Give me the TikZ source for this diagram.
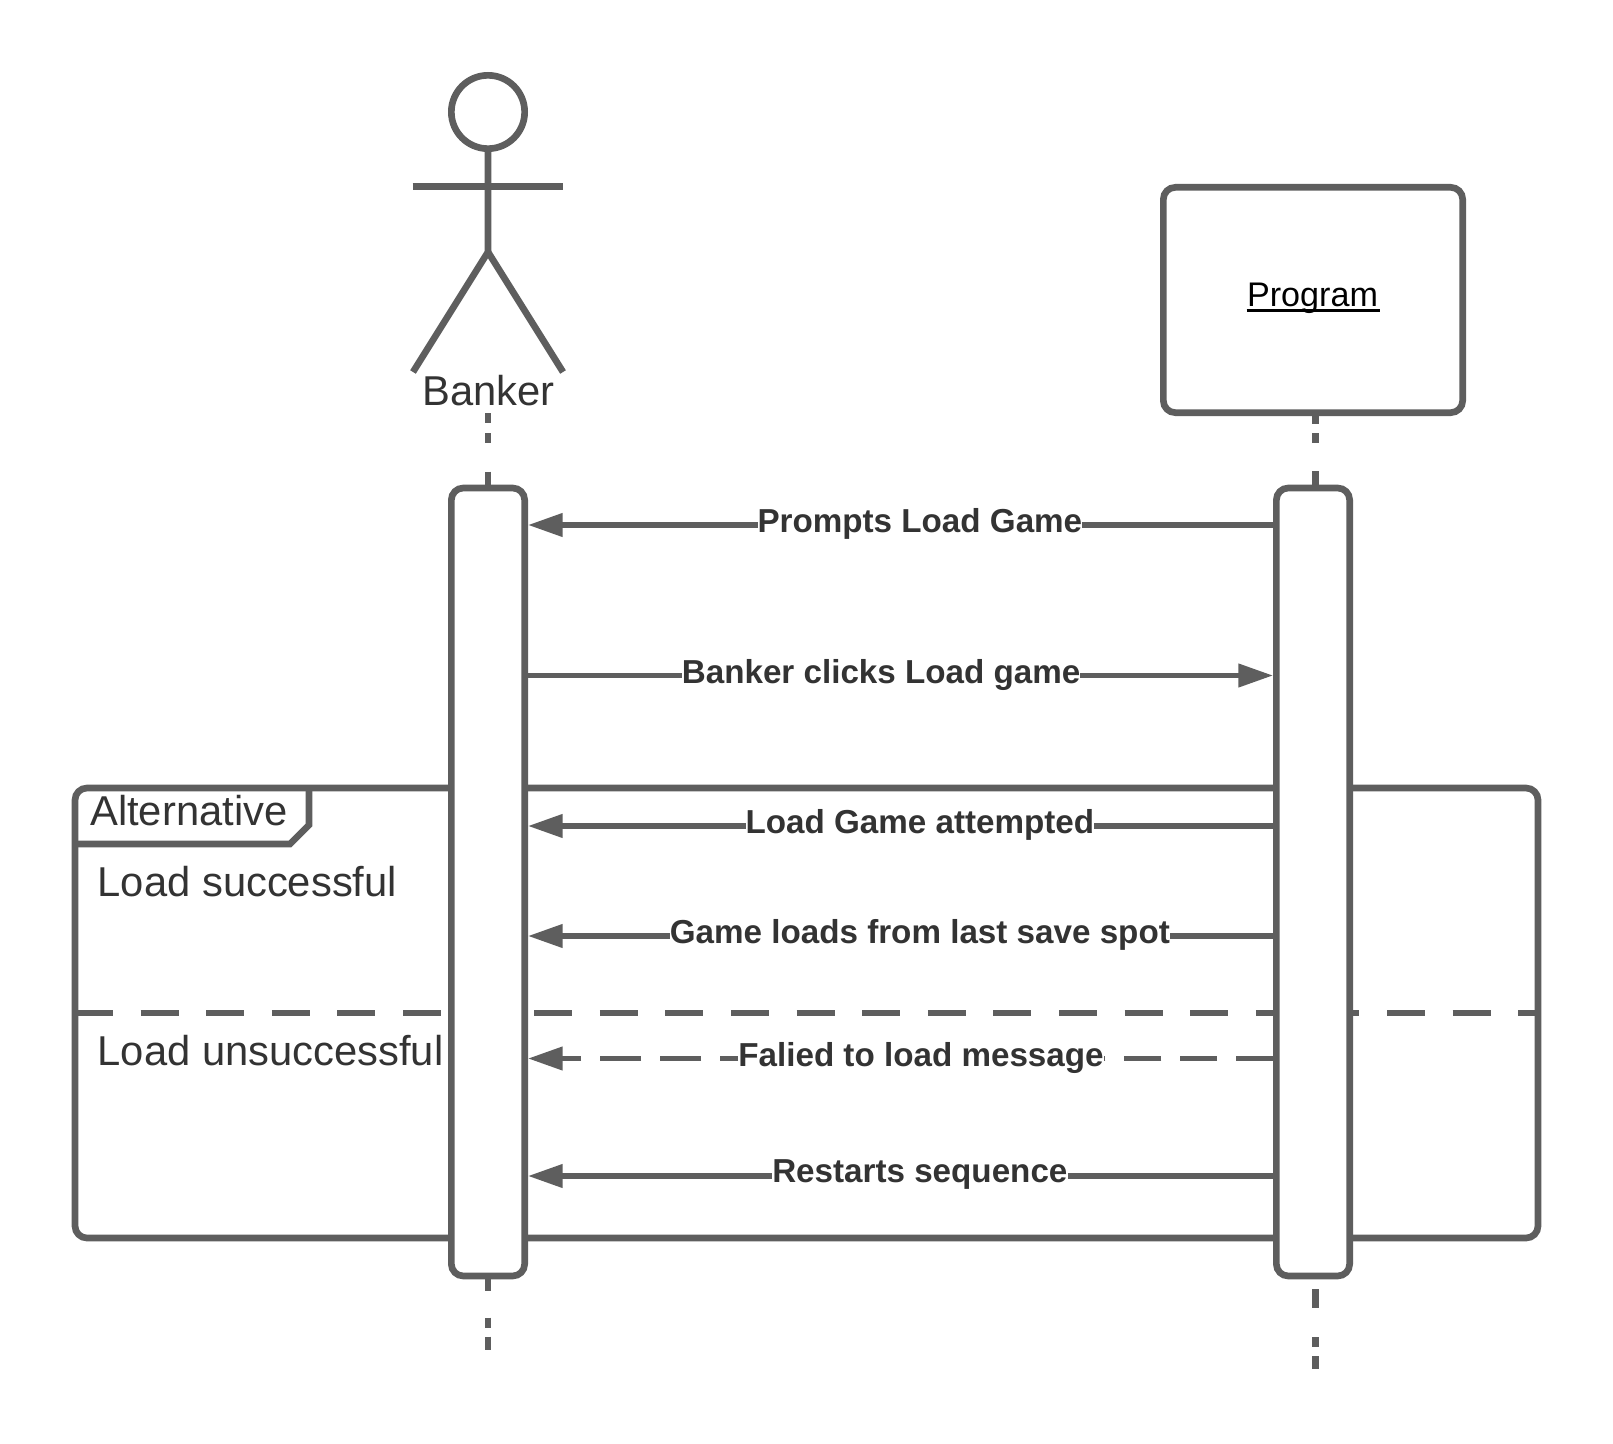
\documentclass[tikz,border=0pt]{standalone}
\usepackage{fontspec}
\setmainfont{Liberation Sans}
\usetikzlibrary{arrows.meta}
\definecolor{ln}{HTML}{5E5E5E}
\definecolor{tx}{HTML}{333333}
\tikzset{
 x=0.75pt,y=-0.75pt,
 shp/.style={draw=ln,line width=5pt,fill=white,rounded corners=9pt},
 ll/.style={draw=ln,line width=5pt},
 msg/.style={draw=ln,line width=4pt,-{Triangle[length=26pt,width=17pt,fill=ln]}},
 msgp/.style={draw=ln,line width=4pt},
 lbl/.style={fill=white,inner sep=0pt,text=tx,yshift=0.75pt,font=\fontsize{24.9pt}{28pt}\selectfont\bfseries},
 big/.style={inner sep=0pt,text=tx,font=\fontsize{31.3pt}{34pt}\selectfont,anchor=base west},
}
\begin{document}
\begin{tikzpicture}
\useasboundingbox (0,0) rectangle (1613,1444);
\fill[white] (0,0) rectangle (1613,1444);
% frame
\draw[shp] (75,788) rectangle (1538,1238);
\draw[draw=ln,line width=5pt] (75,844) -- (290,844) -- (309,825) -- (309,788);
\coordinate (dl) at (75,1013); \coordinate (dr) at (1538,1013);
\draw[ll,dash pattern=on 28.5pt off 20.7pt] (dl) -- (dr);
\node[big] (alt) at (90,825) {Alternative};
\node[big] (ls) at (97.5,896) {Load successful};
\node[big] (lu) at (97.5,1065) {Load unsuccessful};
% banker
\node[draw=ln,line width=5pt,circle,minimum size=55pt,inner sep=0pt] (head) at (488,112) {};
\coordinate (neck) at (488,252);
\coordinate (al) at (412.5,186.5); \coordinate (ar) at (563,186.5);
\coordinate (fl) at (413,372); \coordinate (fr) at (563,372);
\draw[ll] (head.south) -- (neck) -- (fl);
\draw[ll] (neck) -- (fr);
\draw[ll] (al) -- (ar);
\node[inner sep=0pt,text=tx,font=\fontsize{31.3pt}{34pt}\selectfont,anchor=base] (bk) at (488.5,406) {Banker};
% program
\node[shp,minimum width=224.5pt,minimum height=169pt,inner sep=0pt] (prog) at (1313,300) {};
\node[inner sep=0pt,text=black,font=\fontsize{25.6pt}{28pt}\selectfont,anchor=base] (pt) at (1312.5,307) {Program};
\draw[black,line width=2.2pt] (1246.5,310.5) -- (1379.5,310.5);
% lifelines
\coordinate (b1) at (488,413); \coordinate (b2) at (488,490);
\coordinate (b3) at (488,1275); \coordinate (b4) at (488,1350);
\coordinate (p1) at (1315.5,414); \coordinate (p2) at (1315.5,490);
\coordinate (p3) at (1315.5,1279); \coordinate (p4) at (1315.5,1369);
\draw[ll,dash pattern=on 7.5pt off 7.5pt on 7.5pt off 21.5pt on 14pt off 20pt] (b1) -- (b2);
\draw[ll,dash pattern=on 7.5pt off 7pt on 7.5pt off 21pt on 14pt off 20pt] (p1) -- (p2);
\draw[ll,dash pattern=on 12pt off 20pt on 7.5pt off 6.75pt on 9.75pt off 20pt] (b3) -- (b4);
\draw[ll,dash pattern=on 0pt off 7.5pt on 14.25pt off 21.75pt on 7.5pt off 6.75pt on 9.75pt off 20pt] (p3) -- (p4);
% activations
\node[shp,minimum width=55pt,minimum height=591pt,inner sep=0pt] (ba) at (488,882) {};
\node[shp,minimum width=55pt,minimum height=591pt,inner sep=0pt] (pa) at (1313,882) {};
% messages
\draw[msg] (pa.west |- 0,525) -- node[lbl,pos=0.474] {Prompts Load Game} (ba.east |- 0,525);
\draw[msg] (ba.east |- 0,675.5) -- node[lbl,pos=0.474] {Banker clicks Load game} (pa.west |- 0,675.5);
\draw[msg] (pa.west |- 0,826) -- node[lbl,pos=0.474] {Load Game attempted} (ba.east |- 0,826);
\draw[msg] (pa.west |- 0,936) -- node[lbl,pos=0.474] {Game loads from last save spot} (ba.east |- 0,936);
\coordinate (fy) at (0,1058.5);
\node[lbl] (fm) at (921,1058.5) {Falied to load message};
\draw[msgp,dash pattern=on 28pt off 13.9pt] (pa.west |- fy) -- (fm.east |- fy);
\draw[msg,dash pattern=on 30.75pt off 14.25pt,dash phase=17.25pt] (fm.west |- fy) -- (ba.east |- fy);
\draw[msg] (pa.west |- 0,1176) -- node[lbl,pos=0.474] {Restarts sequence} (ba.east |- 0,1176);
\end{tikzpicture}
\end{document}
